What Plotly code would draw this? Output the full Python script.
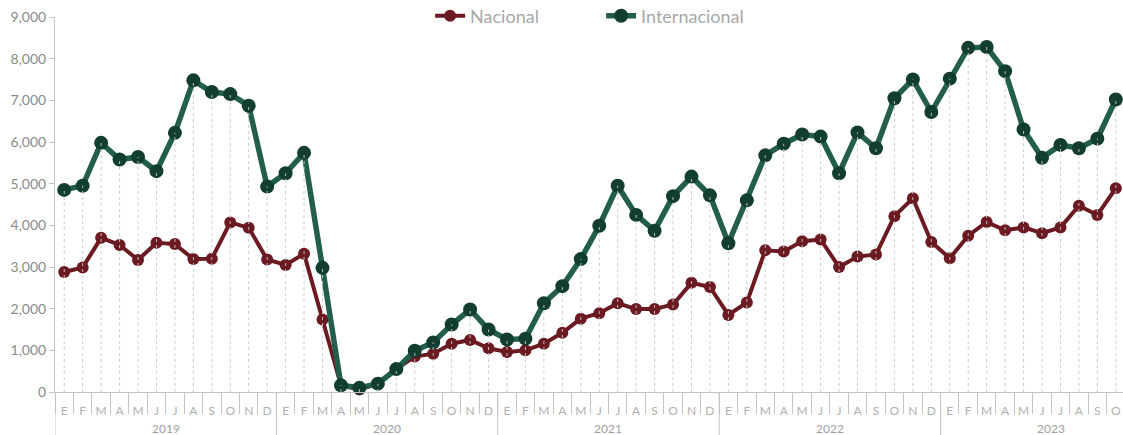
import plotly.graph_objects as go

months = ["E", "F", "M", "A", "M", "J", "J", "A", "S", "O", "N", "D"]
years = ["2019", "2020", "2021", "2022", "2023"]
months_per_year = [12, 12, 12, 12, 10]

nacional = [
    2880, 2990, 3700, 3530, 3170, 3580, 3550, 3190, 3200, 4070, 3940, 3180,
    3050, 3320, 1740, 160, 60, 200, 550, 850, 920, 1160, 1250, 1050,
    960, 1000, 1160, 1420, 1760, 1890, 2130, 1990, 1990, 2100, 2620, 2520,
    1850, 2150, 3400, 3370, 3620, 3660, 3000, 3250, 3300, 4220, 4650, 3600,
    3210, 3750, 4080, 3880, 3950, 3810, 3950, 4470, 4250, 4890,
]
internacional = [
    4850, 4950, 5980, 5580, 5640, 5300, 6220, 7480, 7200, 7150, 6870, 4930,
    5250, 5740, 2980, 160, 100, 200, 550, 990, 1190, 1620, 1980, 1500,
    1260, 1280, 2130, 2540, 3190, 3990, 4950, 4250, 3870, 4700, 5170, 4720,
    3570, 4600, 5680, 5960, 6180, 6130, 5250, 6230, 5850, 7050, 7500, 6720,
    7520, 8260, 8280, 7700, 6300, 5620, 5930, 5850, 6080, 7020,
]

n = len(nacional)
x = list(range(n))
tick_text = [months[i % 12] for i in range(n)]

RED_LINE = "#6b1a21"
RED_MARK = "#6b1a21"
GREEN_LINE = "#235e4c"
GREEN_MARK = "#123d31"
FONT = "Lato"

fig = go.Figure()

fig.add_trace(go.Scatter(
    x=x, y=nacional, name="Nacional", mode="lines+markers",
    line=dict(color=RED_LINE, width=4),
    marker=dict(color=RED_MARK, size=12),
    cliponaxis=False,
))
fig.add_trace(go.Scatter(
    x=x, y=internacional, name="Internacional", mode="lines+markers",
    line=dict(color=GREEN_LINE, width=5.5),
    marker=dict(color=GREEN_MARK, size=14),
    cliponaxis=False,
))

# dotted drop lines from the axis up to each month's highest point
dx, dy = [], []
for i in x:
    dx += [i, i, None]
    dy += [0, max(nacional[i], internacional[i]), None]
fig.add_trace(go.Scatter(
    x=dx, y=dy, mode="lines", showlegend=False, hoverinfo="skip",
    line=dict(color="rgba(200,200,200,0.9)", width=1, dash="dot"),
    cliponaxis=False,
))

# year dividers and labels
shapes = []
annotations = []
start = 0
for yr, cnt in zip(years, months_per_year):
    shapes.append(dict(type="line", xref="x", yref="paper",
                       x0=start - 0.5, x1=start - 0.5, y0=0, y1=-0.12,
                       line=dict(color="#c4c4c4", width=1)))
    annotations.append(dict(x=start + 5.5, y=-0.097, xref="x", yref="paper",
                            text=yr, showarrow=False, yanchor="middle",
                            font=dict(family=FONT, size=12, color="#a0a0a0")))
    start += cnt

fig.update_layout(
    width=1123, height=435,
    margin=dict(l=55, r=0, t=17, b=43, autoexpand=False),
    plot_bgcolor="white", paper_bgcolor="white",
    font=dict(family=FONT),
    showlegend=True,
    legend=dict(orientation="h", xref="container", yref="container",
                x=0.383, xanchor="left", y=0.963, yanchor="middle",
                font=dict(family=FONT, size=18, color="#a8a8a8"),
                entrywidth=126, entrywidthmode="pixels",
                bgcolor="rgba(0,0,0,0)", itemclick=False),
    shapes=shapes,
    annotations=annotations,
    hovermode=False,
)

fig.update_xaxes(
    automargin=False,
    range=[-0.5, 57.39],
    tickmode="array", tickvals=x, ticktext=tick_text,
    ticks="", ticklabelstandoff=8,
    tickfont=dict(family=FONT, size=12, color="#b0b0b0"),
    showgrid=False, zeroline=False,
    showline=True, linecolor="#c4c4c4", linewidth=1,
    minor=dict(tickmode="linear", tick0=-0.5, dtick=1, ticks="outside",
               ticklen=21, tickcolor="#c4c4c4", tickwidth=1, showgrid=False),
)
fig.update_yaxes(
    automargin=False,
    range=[0, 9000], tickmode="linear", tick0=0, dtick=1000,
    tickformat=",d",
    ticks="outside", ticklen=5, tickcolor="#c4c4c4",
    tickfont=dict(family=FONT, size=14, color="#8a8a8a"),
    showgrid=False, zeroline=False,
    showline=True, linecolor="#c4c4c4", linewidth=1,
)

fig.write_html("out.html",
               config={"displayModeBar": False},
               post_script="document.body.style.margin='0';")
